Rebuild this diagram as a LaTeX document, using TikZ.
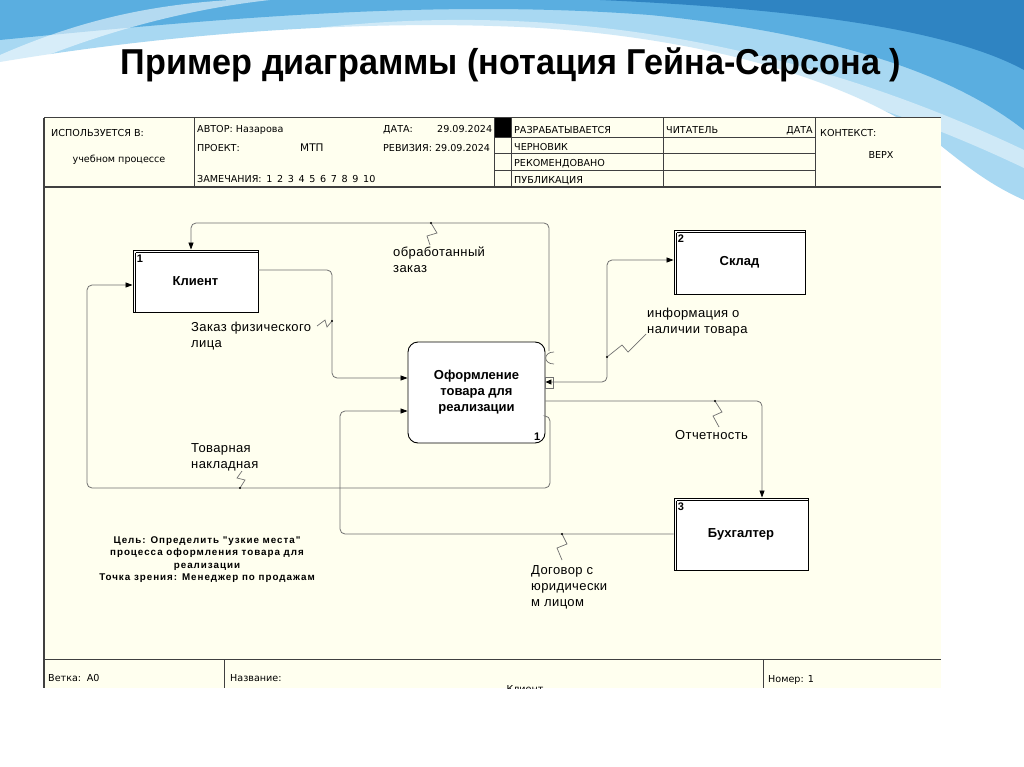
\documentclass[tikz,border=0pt]{standalone}
\usepackage{fontspec}
\usepackage{graphicx}
\setmainfont{Liberation Sans}
\newfontfamily\hdrfont{DejaVu Sans}
\newfontfamily\lblfont[LetterSpace=3]{Liberation Sans}
\newfontfamily\goalfont[LetterSpace=10]{Liberation Sans}
\usetikzlibrary{arrows.meta,calc}
\definecolor{cream}{HTML}{FFFFEF}
\definecolor{lgray}{HTML}{707070}
\definecolor{bluea}{HTML}{A8D8F2}
\definecolor{blueb}{HTML}{5AAEE0}
\definecolor{bluec}{HTML}{2F84C2}
\begin{document}
\begin{tikzpicture}[x=1pt,y=-1pt,
  conn/.style={draw=lgray,line width=0.8pt,rounded corners=5pt},
  tip/.style={-{Triangle[length=7pt,width=5pt,color=black]}},
  dtip/.style={{Triangle[length=6pt,width=5pt,color=black]}-{Triangle[length=7pt,width=5pt,color=black]}},
  ent/.style={draw=black,line width=0.9pt,fill=white,inner sep=0pt,font=\bfseries\fontsize{13}{16}\selectfont},
  proc/.style={draw=black,line width=0.9pt,fill=white,rounded corners=10pt,inner sep=0pt,align=center,font=\bfseries\fontsize{13}{16}\selectfont},
  hdr/.style={font=\hdrfont\fontsize{9.6}{11}\selectfont,inner sep=0pt,anchor=base west},
  lbl/.style={font=\lblfont\fontsize{13}{16}\selectfont,align=left,anchor=north west,inner sep=0pt},
  num/.style={font=\bfseries\fontsize{11}{11}\selectfont,inner sep=0pt},
  zig/.style={draw=lgray,line width=0.7pt},
  frameline/.style={draw=black!75,line width=1pt}
]
\useasboundingbox (0,0) rectangle (1024,767);
\fill[white] (0,0) rectangle (1024,767);
% background waves
\fill[bluea] (0,0) -- (1024,0) -- (1024,200) .. controls (990,185) and (965,165) .. (940,145) .. controls (860,85) and (720,40) .. (540,28) .. controls (360,18) and (160,35) .. (0,62) -- cycle;
\fill[blueb] (0,0) -- (1024,0) -- (1024,130) .. controls (960,80) and (850,35) .. (650,15) .. controls (450,0) and (250,15) .. (0,40) -- cycle;
\fill[bluec] (600,0) -- (1024,0) -- (1024,70) .. controls (960,35) and (830,10) .. (600,0) -- cycle;
\fill[white,opacity=0.55] (0,55) .. controls (80,20) and (150,5) .. (230,0) -- (270,0) .. controls (180,10) and (90,35) .. (0,75) -- cycle;
\fill[white,opacity=0.45] (300,30) .. controls (500,5) and (750,20) .. (1024,150) -- (1024,168) .. controls (760,42) and (500,22) .. (300,30) -- cycle;

% title
\node (title) at (511,65) {\scalebox{0.95}[1]{\fontsize{36}{36}\selectfont\bfseries Пример диаграммы (нотация Гейна-Сарсона )}};

% frame
\fill[cream] (44,118) rectangle (941,688);
\fill[black] (494,118) rectangle (511,138);
\draw[frameline] (44,118) -- (941,118);
\draw[frameline,line width=1.4pt] (44,187) -- (941,187);
\draw[frameline,line width=1.4pt] (44,118) -- (44,688);
\draw[frameline] (44,659) -- (941,659);
\draw[frameline] (194,118) -- (194,187);
\draw[frameline] (494,118) -- (494,187);
\draw[frameline] (511,118) -- (511,187);
\draw[frameline] (663,118) -- (663,187);
\draw[frameline] (815,118) -- (815,187);
\draw[frameline] (494,138) -- (815,138);
\draw[frameline] (494,154) -- (815,154);
\draw[frameline] (494,171) -- (815,171);
\draw[frameline] (224,659) -- (224,688);
\draw[frameline] (763,659) -- (763,688);

% header texts
\node[hdr] (h1) at (51,137) {ИСПОЛЬЗУЕТСЯ В:};
\node[hdr,anchor=base] (h2) at (119,163) {учебном процессе};
\node[hdr] (h3) at (197,133) {АВТОР: Назарова};
\node[hdr] (h4) at (383,133) {ДАТА:};
\node[hdr] (h5) at (437,133) {29.09.2024};
\node[hdr] (h6) at (197,152) {ПРОЕКТ:};
\node[hdr,font=\hdrfont\fontsize{10.5}{11}\selectfont] (h7) at (300,152) {МТП};
\node[hdr] (h8) at (383,152) {РЕВИЗИЯ: 29.09.2024};
\node[hdr] (h9) at (197,183) {ЗАМЕЧАНИЯ:\, 1\, 2\, 3\, 4\, 5\, 6\, 7\, 8\, 9\, 10};
\node[hdr] (h10) at (514,134) {РАЗРАБАТЫВАЕТСЯ};
\node[hdr] (h11) at (514,151) {ЧЕРНОВИК};
\node[hdr] (h12) at (514,167) {РЕКОМЕНДОВАНО};
\node[hdr] (h13) at (514,184) {ПУБЛИКАЦИЯ};
\node[hdr] (h14) at (666,134) {ЧИТАТЕЛЬ};
\node[hdr,anchor=base east] (h15) at (813,134) {ДАТА};
\node[hdr] (h16) at (820,137) {КОНТЕКСТ:};
\node[hdr,anchor=base] (h17) at (881,159) {ВЕРХ};

% bottom row
\node[hdr] (b1) at (48,681) {Ветка:\, А0};
\node[hdr] (b2) at (230,681) {Название:};
\node[hdr] (b4) at (768,682) {Номер: 1};
\begin{scope}
\clip (44,659) rectangle (941,688);
\node[hdr,anchor=base] (b3) at (525,692) {Клиент};
\end{scope}

% goal text
\node[font=\goalfont\bfseries\fontsize{9.8}{12.5}\selectfont,align=center,anchor=north,inner sep=0pt] (goal) at (207,536) {Цель: Определить "узкие места"\\процесса оформления товара для\\реализации\\Точка зрения: Менеджер по продажам};

% nodes
\node[ent,minimum width=125pt,minimum height=62pt] (kl) at (195.5,281) {Клиент};
\node[ent,minimum width=131pt,minimum height=64pt] (sk) at (739.5,262) {Склад};
\node[ent,minimum width=134pt,minimum height=72pt] (bu) at (741,534) {Бухгалтер};
\node[proc,minimum width=137pt,minimum height=101pt] (pr) at (476.5,392.5) {Оформление\\товара для\\реализации};
\foreach \n in {kl,sk,bu}{
  \draw[line width=0.9pt] ($(\n.north west)+(3,3)$) -- ($(\n.north east)+(0,3)$);
  \draw[line width=0.9pt] ($(\n.north west)+(3,3)$) -- ($(\n.south west)+(3,0)$);
}
\node[num,anchor=north west] (n1) at ($(kl.north west)+(4,5)$) {1};
\node[num,anchor=north west] (n2) at ($(sk.north west)+(4,5)$) {2};
\node[num,anchor=north west] (n3) at ($(bu.north west)+(4,5)$) {3};
\node[num,anchor=south east] (n4) at ($(pr.south east)+(-5,-3)$) {1};

% connectors
\coordinate (p1) at (549,351);
\coordinate (c1) at (549,223);
\coordinate (c1b) at (191,223);
\draw[conn,tip] (p1) -- (c1) -- (c1b) -- (c1b |- kl.north);
\draw[lgray,line width=0.7pt] (554,352) .. controls (543,352) and (543,364) .. (554,364);

\coordinate (c2a) at (332,270);
\coordinate (c2b) at (332,378);
\draw[conn,tip] (kl.east |- c2a) -- (c2a) -- (c2b) -- (pr.west |- c2b);

\coordinate (c3a) at (550,416);
\coordinate (c3b) at (550,488);
\coordinate (c3c) at (87,488);
\coordinate (c3d) at (87,285);
\draw[conn,tip] (pr.east |- c3a) -- (c3a) -- (c3b) -- (c3c) -- (c3d) -- (kl.west |- c3d);

\coordinate (c4a) at (607,382);
\coordinate (c4b) at (607,260);
\draw[conn,dtip] (pr.east |- c4a) -- (c4a) -- (c4b) -- (sk.west |- c4b);
\draw[lgray,line width=0.6pt] (545,377) rectangle (553,388);

\coordinate (c5) at (762,401);
\draw[conn,tip] (pr.east |- c5) -- (c5) -- (c5 |- bu.north);

\coordinate (c6a) at (340,534);
\coordinate (c6b) at (340,411);
\draw[conn,tip] (bu.west |- c6a) -- (c6a) -- (c6b) -- (pr.west |- c6b);

% squiggles
\draw[zig] (431,223) -- (437,233) -- (427,236) -- (430,245);
\fill[black] (431,223) circle (1.2);
\draw[zig] (332,321) -- (327,327) -- (325,320) -- (317,326);
\fill[black] (332,321) circle (1.2);
\draw[zig] (240,488) -- (245,480) -- (237,478) -- (242,471);
\fill[black] (240,488) circle (1.2);
\draw[zig] (607,357) -- (622,345) -- (628,352) -- (646,334);
\fill[black] (607,357) circle (1.2);
\draw[zig] (715,401) -- (722,412) -- (713,416) -- (719,427);
\fill[black] (715,401) circle (1.2);
\draw[zig] (562,534) -- (567,544) -- (557,548) -- (562,560);
\fill[black] (562,534) circle (1.2);

% labels
\node[lbl] (l1) at (393,247) {обработанный\\заказ};
\node[lbl] (l2) at (191,322) {Заказ физического\\лица};
\node[lbl] (l3) at (191,443) {Товарная\\накладная};
\node[lbl] (l4) at (647,308) {информация о\\наличии товара};
\node[lbl] (l5) at (675,430) {Отчетность};
\node[lbl] (l6) at (531,565) {Договор с\\юридически\\м лицом};
\end{tikzpicture}
\end{document}
